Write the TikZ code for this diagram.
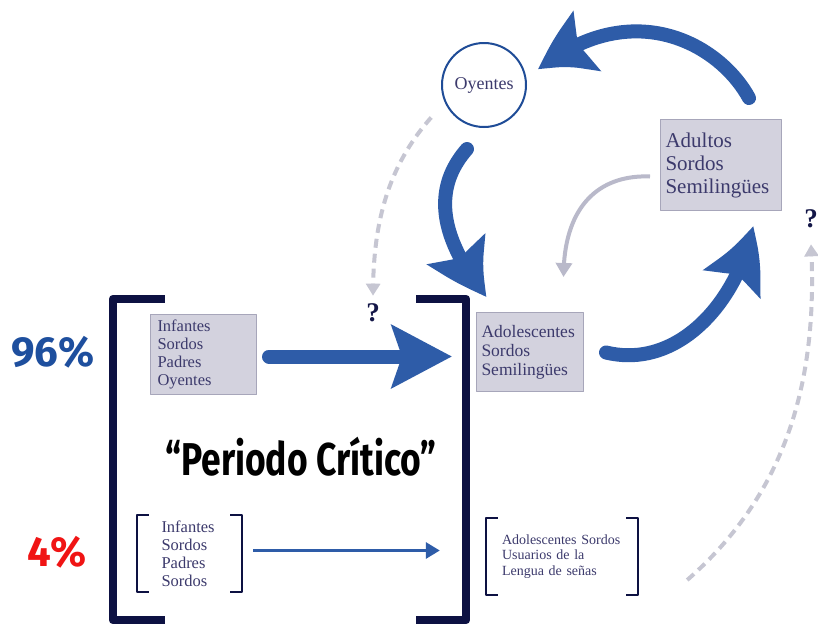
\documentclass[tikz,border=0pt]{standalone}
\usepackage{fontspec}
\setmainfont{Liberation Serif}
\newfontfamily\handfont{Fira Sans}
\usetikzlibrary{arrows.meta,bending,calc}

\definecolor{navy}{HTML}{0D1142}
\definecolor{boxfill}{HTML}{D3D2DE}
\definecolor{boxline}{HTML}{A7A6BA}
\definecolor{boxtext}{HTML}{3C3A6C}
\definecolor{cycblue}{HTML}{2E5CA8}
\definecolor{ringblue}{HTML}{1F4C97}
\definecolor{softgray}{HTML}{B9B9CA}
\definecolor{dashgray}{HTML}{C6C6D2}
\definecolor{pctblue}{HTML}{1E4F9E}
\definecolor{pctred}{HTML}{F01414}

\tikzset{
  graybox/.style={draw=boxline, fill=boxfill, line width=1pt, text=boxtext,
    align=left, inner sep=0pt},
  brk/.style={draw=navy, line width=2.5pt},
  bigbrk/.style={draw=navy, line width=8pt},
  cycarrow/.style={draw=cycblue, line width=14pt, line cap=round,
    -{Stealth[length=60pt, width=62pt, inset=10pt, bend]}},
  thinarrow/.style={draw=cycblue, line width=3pt,
    -{Triangle[length=14pt, width=16pt]}},
  grayarrow/.style={draw=softgray, line width=4pt,
    -{Triangle[length=14pt, width=16pt]}},
  qdash/.style={draw=dashgray, line width=4pt, dash pattern=on 9pt off 6pt,
    -{Triangle[length=12pt, width=14pt]}},
  qmark/.style={text=navy!85!boxtext, font=\bfseries\fontsize{27}{30}\selectfont,
    inner sep=0pt},
}

\begin{document}
\begin{tikzpicture}[x=1pt, y=-1pt, line join=round]
  \useasboundingbox (0,0) rectangle (818,624);
  \fill[white] (0,0) rectangle (818,624);

  % Add boxes
  \node[graybox, anchor=north west, minimum width=106pt, minimum height=80pt,
    text width=92pt, font=\fontsize{16.5}{18}\selectfont] (infoy) at (150,314)
    {Infantes\\Sordos\\Padres\\Oyentes};
  \node[graybox, anchor=north west, minimum width=107pt, minimum height=79pt,
    text width=97pt, font=\fontsize{17.5}{19}\selectfont] (adol) at (476,312)
    {Adolescentes\\Sordos\\Semiling\"ues};
  \node[graybox, anchor=north west, minimum width=121pt, minimum height=91pt,
    text width=111pt, font=\fontsize{21}{23}\selectfont] (adultos) at (660,119)
    {Adultos\\Sordos\\Semiling\"ues};
  \node[circle, draw=ringblue, line width=2pt, minimum size=84pt, inner sep=0pt,
    text=boxtext, font=\fontsize{18}{20}\selectfont] (oyentes) at (484,85) {Oyentes};

  % Add bracketed groups
  \node[minimum width=105pt, minimum height=77pt, text width=56pt, align=left,
    inner sep=0pt, text=boxtext, font=\fontsize{16.5}{18}\selectfont] (infso)
    at (189.5,553.5) {Infantes\\Sordos\\Padres\\Sordos};
  \node[minimum width=152pt, minimum height=77pt, text width=120pt, align=left,
    inner sep=0pt, text=boxtext, font=\fontsize{14}{15.5}\selectfont] (adso)
    at (562,556.5) {Adolescentes Sordos\\Usuarios de la\\Lengua de se\~nas};
  \node[minimum width=353pt, minimum height=321pt, inner sep=0pt] (periodo)
    at (289.5,459.5) {};

  \draw[brk] ([xshift=12pt]infso.north west) -- (infso.north west)
    -- (infso.south west) -- ++(12,0);
  \draw[brk] ([xshift=-12pt]infso.north east) -- (infso.north east)
    -- (infso.south east) -- ++(-12,0);
  \draw[brk] ([xshift=12pt]adso.north west) -- (adso.north west)
    -- (adso.south west) -- ++(12,0);
  \draw[brk] ([xshift=-12pt]adso.north east) -- (adso.north east)
    -- (adso.south east) -- ++(-12,0);
  \draw[bigbrk] ([xshift=52pt]periodo.north west) -- (periodo.north west)
    -- (periodo.south west) -- ++(52,0);
  \draw[bigbrk] ([xshift=-50pt]periodo.north east) -- (periodo.north east)
    -- (periodo.south east) -- ++(-50,0);

  % Add labels
  \node[text=pctblue, font=\handfont\bfseries\fontsize{42}{44}\selectfont]
    (p96) at (53,352) {96\%};
  \node[text=pctred, font=\handfont\bfseries\fontsize{42}{44}\selectfont]
    (p4) at (57,552) {4\%};
  \node[font=\handfont\bfseries\fontsize{46}{48}\selectfont] (critico)
    at (301,457) {\scalebox{0.77}[1]{“Periodo Crítico”}};
  \node[qmark] (q1) at (373,313) {?};
  \node[qmark] (q2) at (811,219) {?};

  % Add arrows
  \draw[cycarrow] ($(infoy.east)+(12,2)$) -- ($(infoy.east -| adol.west)+(-24,2)$);
  \draw[thinarrow] ($(infso.east)+(11,-3)$) -- ($(infso.east -| adso.west)+(-46,-3)$);
  \draw[cycarrow] ([shift={(28,-21)}]adultos.north)
    .. controls +(-30,-55) and +(93,-75) .. ([shift={(11,-15)}]oyentes.east);
  \draw[cycarrow] ([shift={(-17,21)}]oyentes.south)
    .. controls +(-37,42) and +(-45,-55) .. ([shift={(11,-15)}]adol.north west);
  \draw[cycarrow] ([shift={(22,0.5)}]adol.east)
    .. controls +(75,18) and +(-12,70) .. ([shift={(31.5,15)}]adultos.south);
  \draw[grayarrow] ([shift={(-10,11.5)}]adultos.west)
    .. controls +(-50,-2) and +(0,-72) .. ([shift={(33.5,-35)}]adol.north);
  \draw[qdash] ([shift={(-15.6,11)}]oyentes.210)
    .. controls +(-47,53) and +(0,-65) .. ([yshift=8pt]q1.north);
  \draw[qdash] ([shift={(49,23.5)}]adso.east)
    .. controls +(103,-90) and +(7,130) .. ([yshift=-16pt]q2.south);
\end{tikzpicture}
\end{document}
